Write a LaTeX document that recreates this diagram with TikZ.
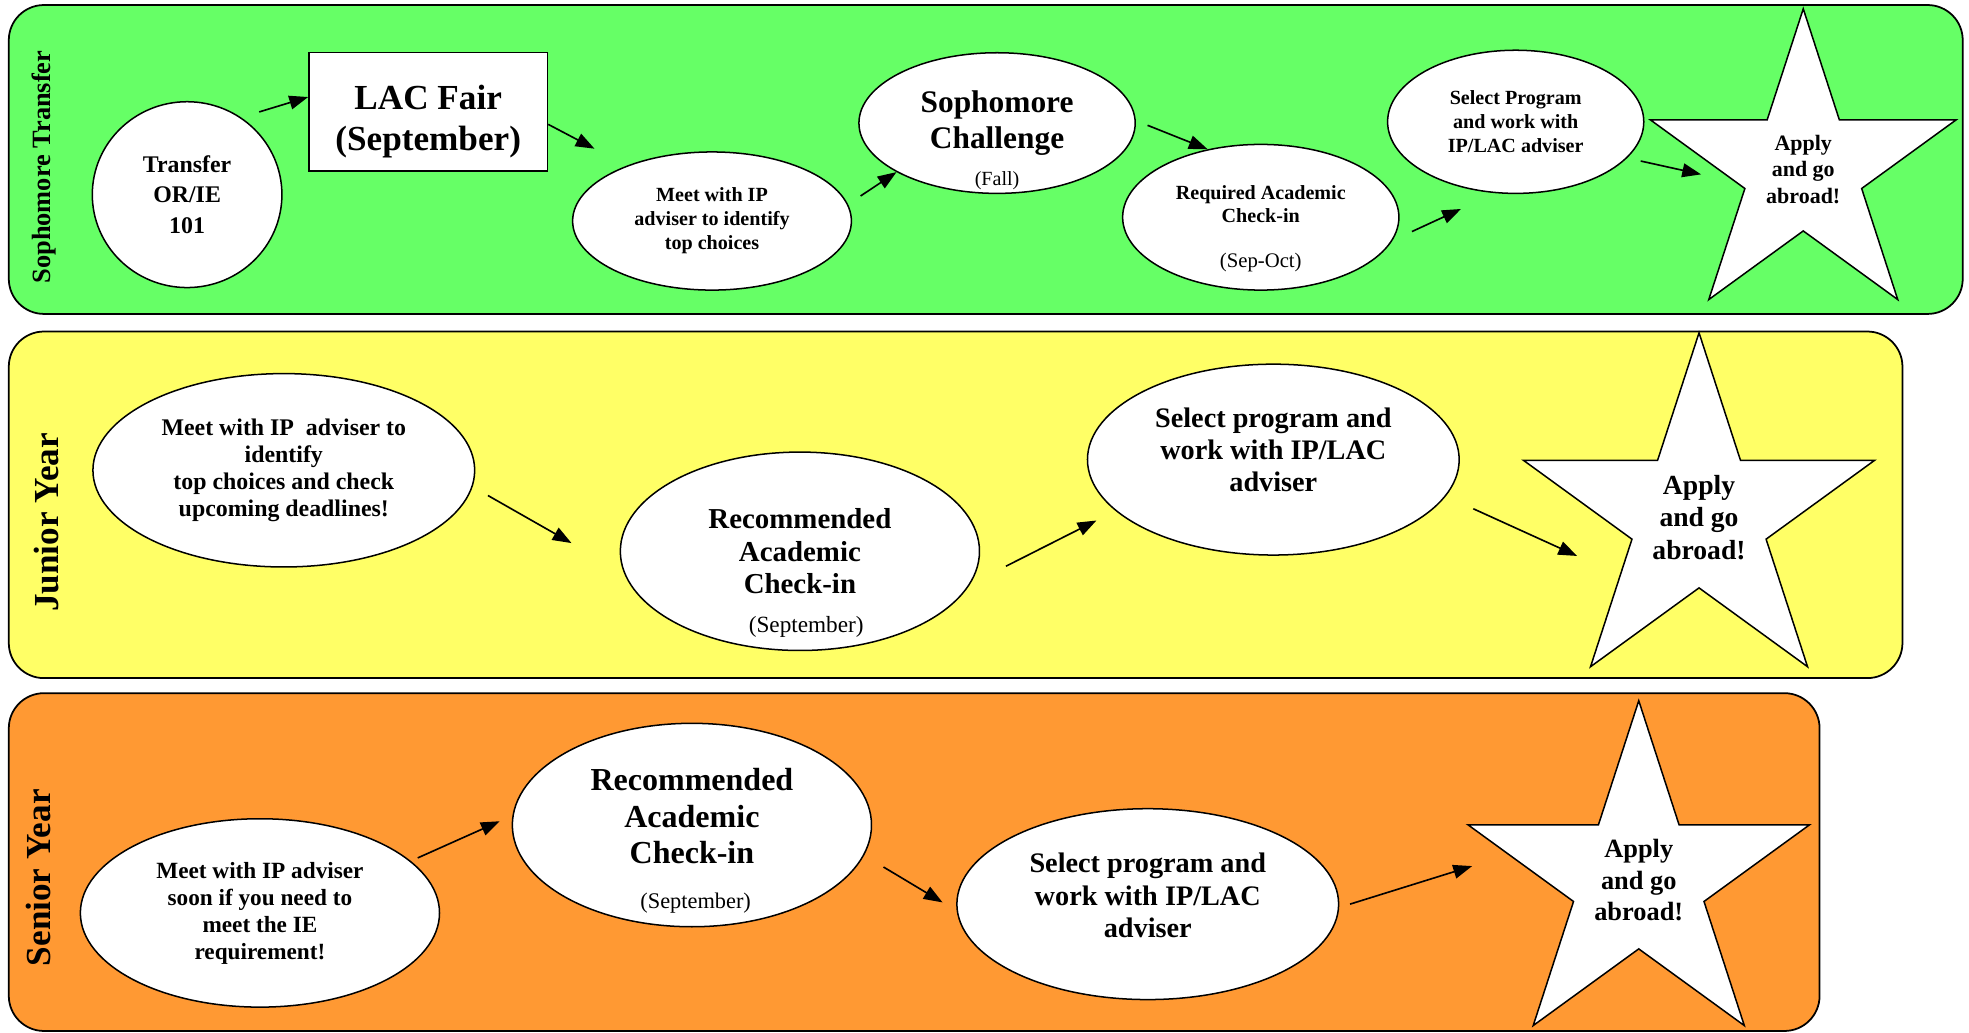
\documentclass[tikz,border=0pt]{standalone}
\usepackage{fontspec}
\setmainfont{Liberation Serif}
\usetikzlibrary{shapes.geometric, arrows.meta, positioning}
\definecolor{sophgreen}{RGB}{102,255,102}
\definecolor{junioryellow}{RGB}{255,255,102}
\definecolor{seniororange}{RGB}{255,153,51}
\newcommand{\txtsize}[2]{\fontsize{#1}{#2}\selectfont}

\tikzset{
  band/.style={draw, line width=1.4pt, rounded corners=28pt},
  bubble/.style={ellipse, draw, fill=white, line width=1.2pt, inner sep=0pt, align=center},
  starbox/.style={star, star points=5, star point ratio=2.618, draw, fill=white,
                  line width=1.2pt, inner sep=0pt, align=center},
  txt/.style={align=center, inner sep=0pt},
  arr/.style={-{Triangle[length=15pt,width=11pt]}, line width=1.3pt},
  yearlabel/.style={rotate=90, inner sep=0pt}
}

\begin{document}
\begin{tikzpicture}[x=1pt, y=-1pt]
    \useasboundingbox (0,0) rectangle (1568,822);

    % Bands
    \filldraw[band, fill=sophgreen] (7,4) rectangle (1563,250);
    \filldraw[band, fill=junioryellow] (7,264) rectangle (1515,540);
    \filldraw[band, fill=seniororange] (7,552) rectangle (1449,821);

    \node[yearlabel, font=\txtsize{21}{24}\bfseries] (lblsoph) at (35,133) {Sophomore Transfer};
    \node[yearlabel, font=\txtsize{28}{30}\bfseries] (lbljunior) at (37,416) {Junior Year};
    \node[yearlabel, font=\txtsize{28}{30}\bfseries] (lblsenior) at (31,699) {Senior Year};

    % Sophomore transfer
    \node[bubble, minimum width=151pt, minimum height=148pt, font=\txtsize{19}{24}\bfseries]
        (transfer) at (149,155) {Transfer\\OR/IE\\101};
    \node[draw, fill=white, line width=1.2pt, minimum width=190pt, minimum height=94pt]
        (lacfair) at (341,89) {};
    \node[txt, font=\txtsize{28}{33}\bfseries] (lactext) at ([yshift=-8pt]lacfair.center)
        {LAC Fair\\(September)};
    \node[bubble, minimum width=222pt, minimum height=110pt, font=\txtsize{16}{19}\bfseries]
        (meetip) at (567,176) {Meet with IP\\adviser to identify\\top choices};
    \node[bubble, minimum width=220pt, minimum height=112pt, font=\txtsize{25}{28}\bfseries]
        (soph) at (794,98) {Sophomore\\Challenge};
    \node[txt, font=\txtsize{16}{19}] (sophdate) at ([yshift=-46pt]soph.center) {(Fall)};
    \node[bubble, minimum width=220pt, minimum height=116pt] (req) at (1004,173) {};
    \node[txt, font=\txtsize{16}{19}\bfseries] (reqtext) at ([yshift=10.5pt]req.center)
        {Required Academic\\Check-in};
    \node[txt, font=\txtsize{16.5}{19}] (reqdate) at ([yshift=-36pt]req.center) {(Sep-Oct)};
    \node[bubble, minimum width=204pt, minimum height=114pt, font=\txtsize{16}{19}\bfseries]
        (select) at (1207,97) {Select Program\\and work with\\IP/LAC adviser};
    \node[starbox, minimum size=256pt, font=\txtsize{17.5}{21}\bfseries]
        (stargreen) at (1436,135) {Apply\\and go\\abroad!};

    \draw[arr, shorten <=15pt] (transfer.55) -- (lacfair.173);
    \draw[arr, shorten >=29pt] (lacfair.-6) -- (meetip.147);
    \draw[arr, shorten <=12pt] (meetip.7) -- (soph.206);
    \draw[arr, shorten <=10pt] (soph.1) -- (req.128);
    \draw[arr, shorten <=17pt, shorten >=30pt] (req.-10) -- (select.-106);
    \draw[arr, shorten <=11pt, shorten >=27pt] (select.-18) -- (stargreen.190);

    % Junior year
    \node[bubble, minimum width=304pt, minimum height=154pt, font=\txtsize{19}{21.5}\bfseries]
        (meetj) at (226,374.5) {Meet with IP~ adviser to\\identify\\top choices and check\\upcoming deadlines!};
    \node[bubble, minimum width=286pt, minimum height=158pt, font=\txtsize{23}{26}\bfseries]
        (recj) at (637,439) {Recommended\\Academic\\Check-in};
    \node[txt, font=\txtsize{18.5}{21}] (recjdate) at ([xshift=5pt, yshift=-60pt]recj.center) {(September)};
    \node[bubble, minimum width=296pt, minimum height=152pt] (selj) at (1014,366) {};
    \node[txt, font=\txtsize{22.5}{25.5}\bfseries] (seljtext) at ([yshift=8pt]selj.center)
        {Select program and\\work with IP/LAC\\adviser};
    \node[starbox, minimum size=294pt, font=\txtsize{22}{26}\bfseries]
        (starj) at (1353,412) {Apply\\and go\\abroad!};

    \draw[arr, shorten <=14pt, shorten >=48pt] (meetj.-5) -- (recj.187);
    \draw[arr, shorten <=32pt, shorten >=17pt] (recj.-11) -- (selj.198);
    \draw[arr, shorten <=24pt, shorten >=37pt] (selj.-12) -- (starj.216);

    % Senior year
    \node[bubble, minimum width=286pt, minimum height=150pt, font=\txtsize{18.5}{21.5}\bfseries]
        (meets) at (207,727) {Meet with IP adviser\\soon if you need to\\meet the IE\\requirement!};
    \node[bubble, minimum width=286pt, minimum height=162pt] (recs) at (551,657) {};
    \node[txt, font=\txtsize{25.5}{29}\bfseries] (recstext) at ([yshift=7pt]recs.center)
        {Recommended\\Academic\\Check-in};
    \node[txt, font=\txtsize{17.8}{21}] (recsdate) at ([xshift=3pt, yshift=-62pt]recs.center) {(September)};
    \node[bubble, minimum width=304pt, minimum height=152pt] (sels) at (914,720) {};
    \node[txt, font=\txtsize{22.5}{26}\bfseries] (selstext) at ([yshift=7pt]sels.center)
        {Select program and\\work with IP/LAC\\adviser};
    \node[starbox, minimum size=286pt, font=\txtsize{21}{25}\bfseries]
        (stars) at (1305,701) {Apply\\and go\\abroad!};

    \draw[arr, shorten <=6pt, shorten >=11pt] (meets.19) -- (recs.177);
    \draw[arr, shorten <=18pt, shorten >=13pt] (recs.-10) -- (sels.182);
    \draw[arr, shorten <=9pt, shorten >=30pt] (sels.-1) -- (stars.169);
\end{tikzpicture}
\end{document}
